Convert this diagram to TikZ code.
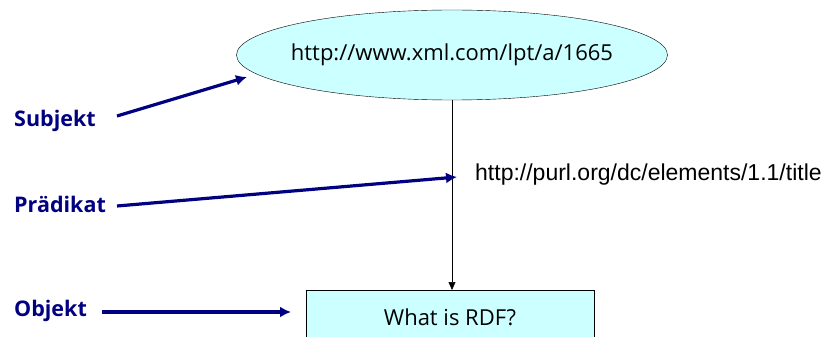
\documentclass[tikz,border=0pt]{standalone}
\usepackage{fontspec}
\setmainfont{Open Sans}
\newfontfamily\arialfont{Liberation Sans}
\usetikzlibrary{shapes.geometric,arrows.meta}
\definecolor{rdfnavy}{HTML}{000080}
\definecolor{rdfcyan}{HTML}{CCFFFF}
\tikzset{
  rolelabel/.style={font=\fontsize{21.5}{24}\selectfont\bfseries, text=rdfnavy, anchor=west, inner sep=0pt},
  rolearrow/.style={rdfnavy, line width=3.2pt, -{Latex[length=11pt,width=11pt]}},
  tripleline/.style={black, line width=0.6pt, -{Triangle[length=8pt,width=7pt]}}
}
\begin{document}
\begin{tikzpicture}[x=1pt, y=-1pt]
  \useasboundingbox (0,0) rectangle (831,337);
  \begin{scope}
  \clip (0,0) rectangle (831,337);
  % the triple
  \node[ellipse, draw, fill=rdfcyan, minimum width=431pt, minimum height=90pt, inner sep=0pt,
        font=\fontsize{22}{25}\selectfont] (subj) at (452,55) {\makebox[280pt]{http://www.xml.com/lpt/a/1665}};
  \node[draw, fill=rdfcyan, minimum width=288pt, minimum height=56pt, anchor=north west, inner sep=0pt] (obj) at (306,290) {};
  \node[font=\fontsize{22}{25}\selectfont] (objtext) at (450,317) {What is RDF?};
  \node[anchor=west, inner sep=0pt, font=\arialfont\fontsize{23}{26}\selectfont] (pred) at (475,175) {http://purl.org/dc/elements/1.1/title};
  \draw[tripleline] (subj.south) -- (subj.south |- obj.north);
  % role labels
  \node[rolelabel] (subjlabel) at (14,121) {Subjekt};
  \node[rolelabel] (predlabel) at (14,204) {Prädikat};
  \node[rolelabel] (objlabel) at (14,311) {Objekt};
  \coordinate (subjtip) at (247,77);
  \coordinate (predtip) at (457,177);
  \coordinate (objtip) at (291,312);
  \draw[rolearrow] (117,116) -- (subjtip);
  \draw[rolearrow] (117,206) -- (predtip);
  \draw[rolearrow] (102,312) -- (objtip);
  \end{scope}
\end{tikzpicture}
\end{document}
